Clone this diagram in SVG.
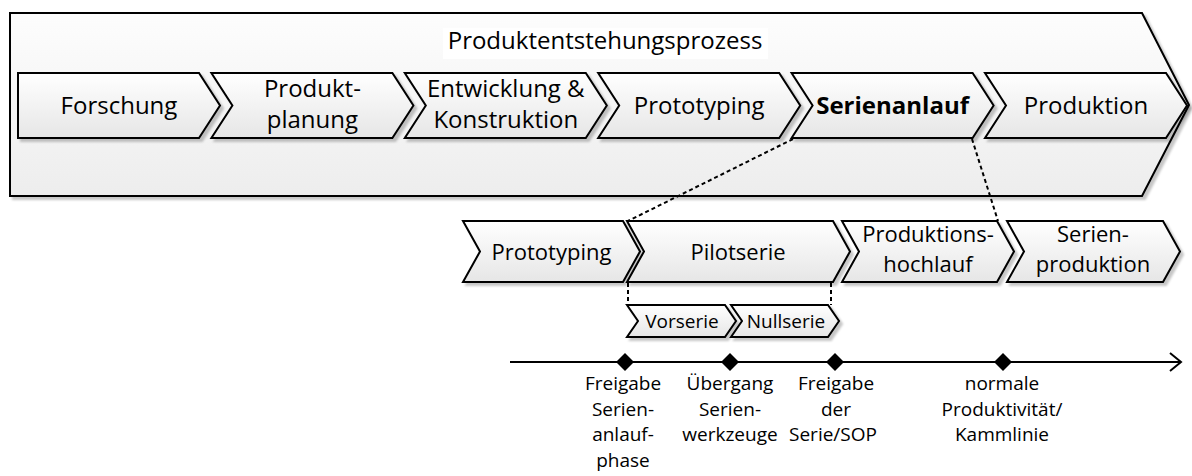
<svg xmlns="http://www.w3.org/2000/svg" width="1192" height="476" viewBox="0 0 1192 476">
<style>
.ch{stroke:#000;stroke-width:2;stroke-linejoin:miter;fill:url(#g);filter:url(#sh)}
.out{stroke:#000;stroke-width:2;fill:url(#go);filter:url(#sh)}
text{font-family:"Open Sans","Noto Sans","Liberation Sans",sans-serif;fill:#000;text-anchor:middle}
.t1{font-size:24px}
.t2{font-size:22px}
.t3{font-size:19px}
.lb{font-size:19px}
.dash{stroke:#000;stroke-width:2;stroke-dasharray:4 3;fill:none}
.ms{fill:#000;stroke:none}
</style>
<defs>
<linearGradient id="g" x1="0" y1="0" x2="0" y2="1">
<stop offset="0" stop-color="#ffffff"/>
<stop offset="1" stop-color="#e6e6e6"/>
</linearGradient>
<linearGradient id="go" x1="0" y1="0" x2="0" y2="1">
<stop offset="0" stop-color="#fdfdfd"/>
<stop offset="1" stop-color="#ededed"/>
</linearGradient>
<filter id="sh" x="-5%" y="-10%" width="115%" height="130%">
<feGaussianBlur in="SourceAlpha" stdDeviation="1"/>
<feOffset dx="3" dy="3" result="b"/>
<feFlood flood-color="#000" flood-opacity="0.22"/>
<feComposite in2="b" operator="in"/>
<feMerge><feMergeNode/><feMergeNode in="SourceGraphic"/></feMerge>
</filter>
</defs>

<g id="pep">
<path class="out" d="M10,13 H1142 L1189,105 L1142,196 H10 Z"/>
<rect x="443" y="28" width="325" height="31" fill="#fff"/>
<text class="t1" x="605" y="49">Produktentstehungsprozess</text>
</g>

<g id="forschung">
<path class="ch" d="M18,73 H199 L220,105.5 L199,138 H18 Z"/>
<text class="t1" x="119" y="114">Forschung</text>
</g>
<g id="produktplanung">
<path class="ch" d="M211.4,73 H392.4 L413.4,105.5 L392.4,138 H211.4 L232.4,105.5 Z"/>
<text class="t1" x="312.4" y="97">Produkt-</text>
<text class="t1" x="312.4" y="128">planung</text>
</g>
<g id="entwicklung">
<path class="ch" d="M404.8,73 H585.8 L606.8,105.5 L585.8,138 H404.8 L425.8,105.5 Z"/>
<text class="t1" x="505.8" y="97">Entwicklung &amp;</text>
<text class="t1" x="505.8" y="128">Konstruktion</text>
</g>
<g id="prototyping1">
<path class="ch" d="M598.2,73 H779.2 L800.2,105.5 L779.2,138 H598.2 L619.2,105.5 Z"/>
<text class="t1" x="699.2" y="114">Prototyping</text>
</g>
<g id="serienanlauf">
<path class="ch" d="M791.6,73 H972.6 L993.6,105.5 L972.6,138 H791.6 L812.6,105.5 Z"/>
<text class="t1" x="892.6" y="114" font-weight="bold">Serienanlauf</text>
</g>
<g id="produktion">
<path class="ch" d="M985,73 H1166 L1187,105.5 L1166,138 H985 L1006,105.5 Z"/>
<text class="t1" x="1086" y="114">Produktion</text>
</g>

<g id="connectors">
<line class="dash" x1="793" y1="139" x2="628" y2="221"/>
<line class="dash" x1="972" y1="139" x2="998" y2="221"/>
<line class="dash" x1="628" y1="283" x2="628" y2="305"/>
<line class="dash" x1="831" y1="283" x2="831" y2="305"/>
</g>

<g id="prototyping2">
<path class="ch" d="M463,221 H623 L640,251.5 L623,282 H463 L480,251.5 Z"/>
<text class="t2" x="551.5" y="260">Prototyping</text>
</g>
<g id="pilotserie">
<path class="ch" d="M627,221 H833 L850,251.5 L833,282 H627 L644,251.5 Z"/>
<text class="t2" x="738" y="260">Pilotserie</text>
</g>
<g id="produktionshochlauf">
<path class="ch" d="M842,221 H997 L1014,251.5 L997,282 H842 L859,251.5 Z"/>
<text class="t2" x="928" y="242">Produktions-</text>
<text class="t2" x="928" y="272">hochlauf</text>
</g>
<g id="serienproduktion">
<path class="ch" d="M1007,221 H1163 L1180,251.5 L1163,282 H1007 L1024,251.5 Z"/>
<text class="t2" x="1093" y="242">Serien-</text>
<text class="t2" x="1093" y="272">produktion</text>
</g>

<g id="vorserie">
<path class="ch" d="M627,305 H725 L736,321 L725,337 H627 L638,321 Z"/>
<text class="t3" x="682" y="328">Vorserie</text>
</g>
<g id="nullserie">
<path class="ch" d="M731,305 H828 L839,321 L828,337 H731 L742,321 Z"/>
<text class="t3" x="786" y="328">Nullserie</text>
</g>

<g id="timeline">
<line x1="510" y1="362" x2="1181" y2="362" stroke="#000" stroke-width="2"/>
<polyline points="1170,353 1181,362 1170,371" fill="none" stroke="#000" stroke-width="2"/>
</g>

<g id="m1">
<path class="ms" d="M625,353 L634,362 L625,371 L616,362 Z"/>
<text class="lb" x="623" y="390">Freigabe</text>
<text class="lb" x="623" y="415.5">Serien-</text>
<text class="lb" x="623" y="441">anlauf-</text>
<text class="lb" x="623" y="466.5">phase</text>
</g>
<g id="m2">
<path class="ms" d="M730,353 L739,362 L730,371 L721,362 Z"/>
<text class="lb" x="730" y="390">Übergang</text>
<text class="lb" x="730" y="415.5">Serien-</text>
<text class="lb" x="730" y="441">werkzeuge</text>
</g>
<g id="m3">
<path class="ms" d="M835,353 L844,362 L835,371 L826,362 Z"/>
<text class="lb" x="836" y="390">Freigabe</text>
<text class="lb" x="836" y="415.5">der</text>
<text class="lb" x="833" y="441">Serie/SOP</text>
</g>
<g id="m4">
<path class="ms" d="M1003,353 L1012,362 L1003,371 L994,362 Z"/>
<text class="lb" x="1002" y="390">normale</text>
<text class="lb" x="1002" y="415.5">Produktivität/</text>
<text class="lb" x="1002" y="441">Kammlinie</text>
</g>
</svg>
